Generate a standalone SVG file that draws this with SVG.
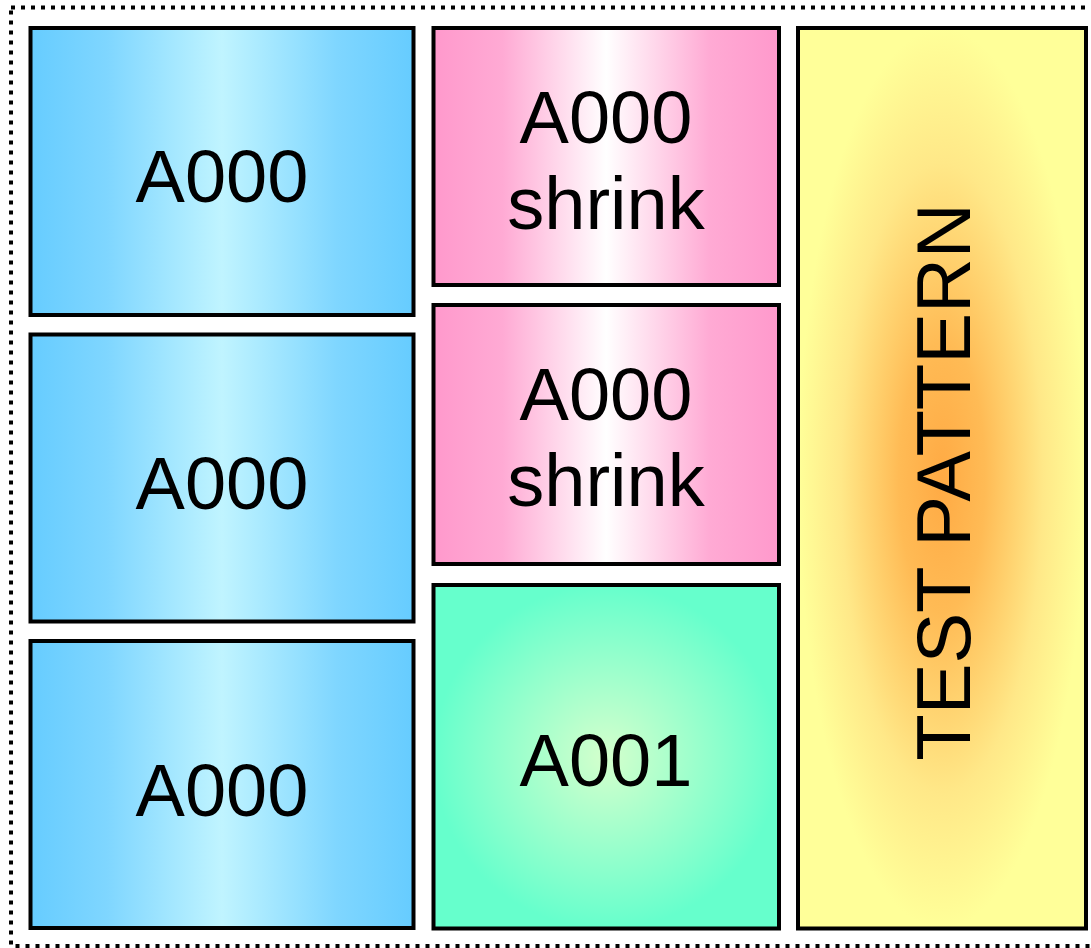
<svg xmlns="http://www.w3.org/2000/svg" width="1091" height="948" viewBox="0 0 1091 948">
<style>
.box{stroke:#000;stroke-width:4}
.lbl{font-family:"Liberation Sans",Arial,sans-serif;font-size:74px;fill:#000;text-anchor:middle}
</style>
<defs>
<linearGradient id="lBlue" x1="0" y1="0" x2="1" y2="0">
<stop offset="0" stop-color="#66ccff"/>
<stop offset="0.2" stop-color="#7fd6ff"/>
<stop offset="0.5" stop-color="#c0f4ff"/>
<stop offset="0.8" stop-color="#7fd6ff"/>
<stop offset="1" stop-color="#66ccff"/>
</linearGradient>
<linearGradient id="lPink" x1="0" y1="0" x2="1" y2="0">
<stop offset="0" stop-color="#ff99cc"/>
<stop offset="0.2" stop-color="#ffaad4"/>
<stop offset="0.5" stop-color="#ffffff"/>
<stop offset="0.8" stop-color="#ffaad4"/>
<stop offset="1" stop-color="#ff99cc"/>
</linearGradient>
<radialGradient id="gGreen" cx="0.5" cy="0.5" r="0.5">
<stop offset="0" stop-color="#d4ffcc"/>
<stop offset="1" stop-color="#66ffcc"/>
</radialGradient>
<radialGradient id="gYellow" cx="0.5" cy="0.5" r="0.5">
<stop offset="0" stop-color="#ffaa44"/>
<stop offset="0.3" stop-color="#ffbb55"/>
<stop offset="0.7" stop-color="#ffe888"/>
<stop offset="1" stop-color="#ffff99"/>
</radialGradient>
</defs>
<g id="frame">
<rect x="11" y="7.5" width="1100" height="938.5" fill="none" stroke="#000" stroke-width="4" stroke-dasharray="4,6"/>
</g>
<g id="connectors"></g>
<g id="a000-1">
<rect class="box" x="30.5" y="28" width="383" height="287" fill="url(#lBlue)"/>
<text class="lbl" x="222" y="202">A000</text>
</g>
<g id="a000-2">
<rect class="box" x="30.5" y="334.5" width="383" height="287" fill="url(#lBlue)"/>
<text class="lbl" x="222" y="509">A000</text>
</g>
<g id="a000-3">
<rect class="box" x="30.5" y="641" width="383" height="287" fill="url(#lBlue)"/>
<text class="lbl" x="222" y="816">A000</text>
</g>
<g id="shrink-1">
<rect class="box" x="433.5" y="28" width="345.5" height="257" fill="url(#lPink)"/>
<text class="lbl" x="606" y="143">A000</text>
<text class="lbl" x="606" y="229">shrink</text>
</g>
<g id="shrink-2">
<rect class="box" x="433.5" y="305" width="345.5" height="259" fill="url(#lPink)"/>
<text class="lbl" x="606" y="420">A000</text>
<text class="lbl" x="606" y="506">shrink</text>
</g>
<g id="a001">
<rect class="box" x="433.5" y="585" width="345.5" height="343.5" fill="url(#gGreen)"/>
<text class="lbl" x="606" y="786">A001</text>
</g>
<g id="test-pattern">
<rect class="box" x="798" y="28" width="288" height="900.5" fill="url(#gYellow)"/>
<text class="lbl" style="font-size:76px" transform="translate(970,482) rotate(-90)">TEST PATTERN</text>
</g>
</svg>
